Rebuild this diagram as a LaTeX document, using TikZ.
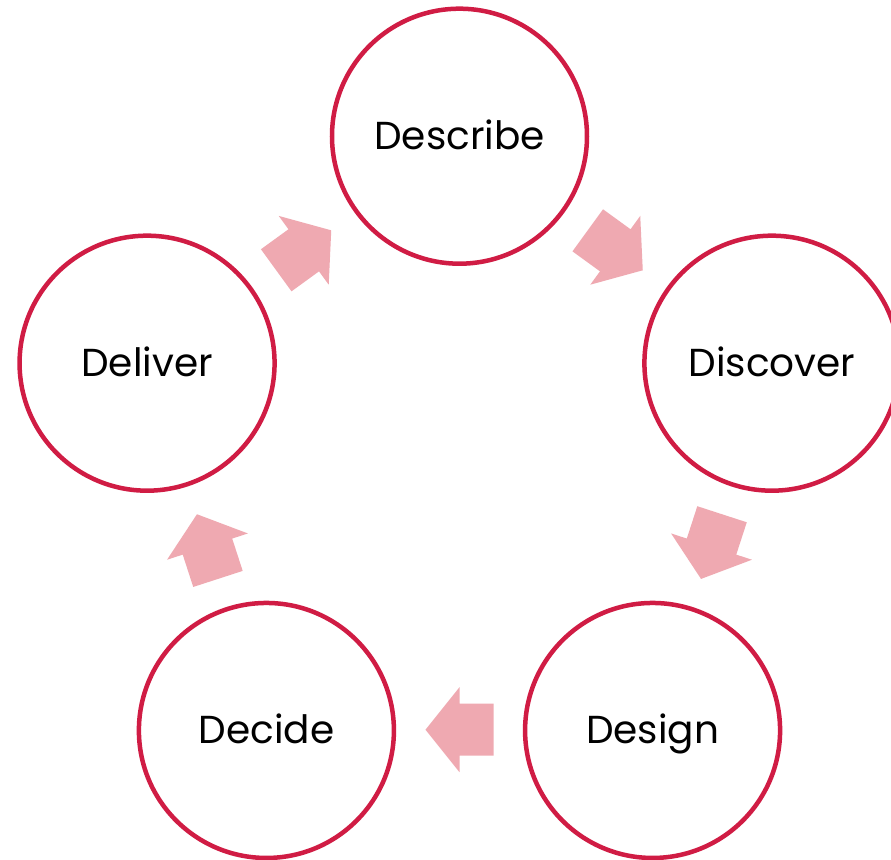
\documentclass[tikz,border=0pt]{standalone}
\usepackage{fontspec}
\setmainfont{Poppins}
\definecolor{ringred}{RGB}{208,28,68}
\definecolor{arrowpink}{RGB}{239,169,177}
\begin{document}
\begin{tikzpicture}[x=1pt,y=1pt,
  stage/.style={circle, draw=ringred, line width=4.5pt, minimum size=255pt,
    inner sep=0pt, text height=26pt, text depth=0pt,
    font=\fontsize{39}{47}\selectfont},
  flowarrow/.pic={\fill[arrowpink] (-34,-26) -- (0,-26) -- (0,-42.5) -- (34,0)
    -- (0,42.5) -- (0,26) -- (-34,26) -- cycle;}
]
% canvas, with the stages centred on a ring of radius 328.5
\fill[white] (-459.5,-394.3) rectangle (431.5,464.7);
\useasboundingbox (-459.5,-394.3) rectangle (431.5,464.7);
\clip (-459.5,-394.3) rectangle (431.5,464.7);

\node[stage] (describe) at (90:328.5)   {Describe};
\node[stage] (discover) at (18:328.5)   {Discover};
\node[stage] (design)   at (-54:328.5)  {Design};
\node[stage] (decide)   at (-126:328.5) {Decide};
\node[stage] (deliver)  at (162:328.5)  {Deliver};

% block arrows between the stages, pointing clockwise
\foreach \a in {54,-18,-90,-162,126}
  \pic[rotate=\a-90] at (\a:265) {flowarrow};
\end{tikzpicture}
\end{document}
